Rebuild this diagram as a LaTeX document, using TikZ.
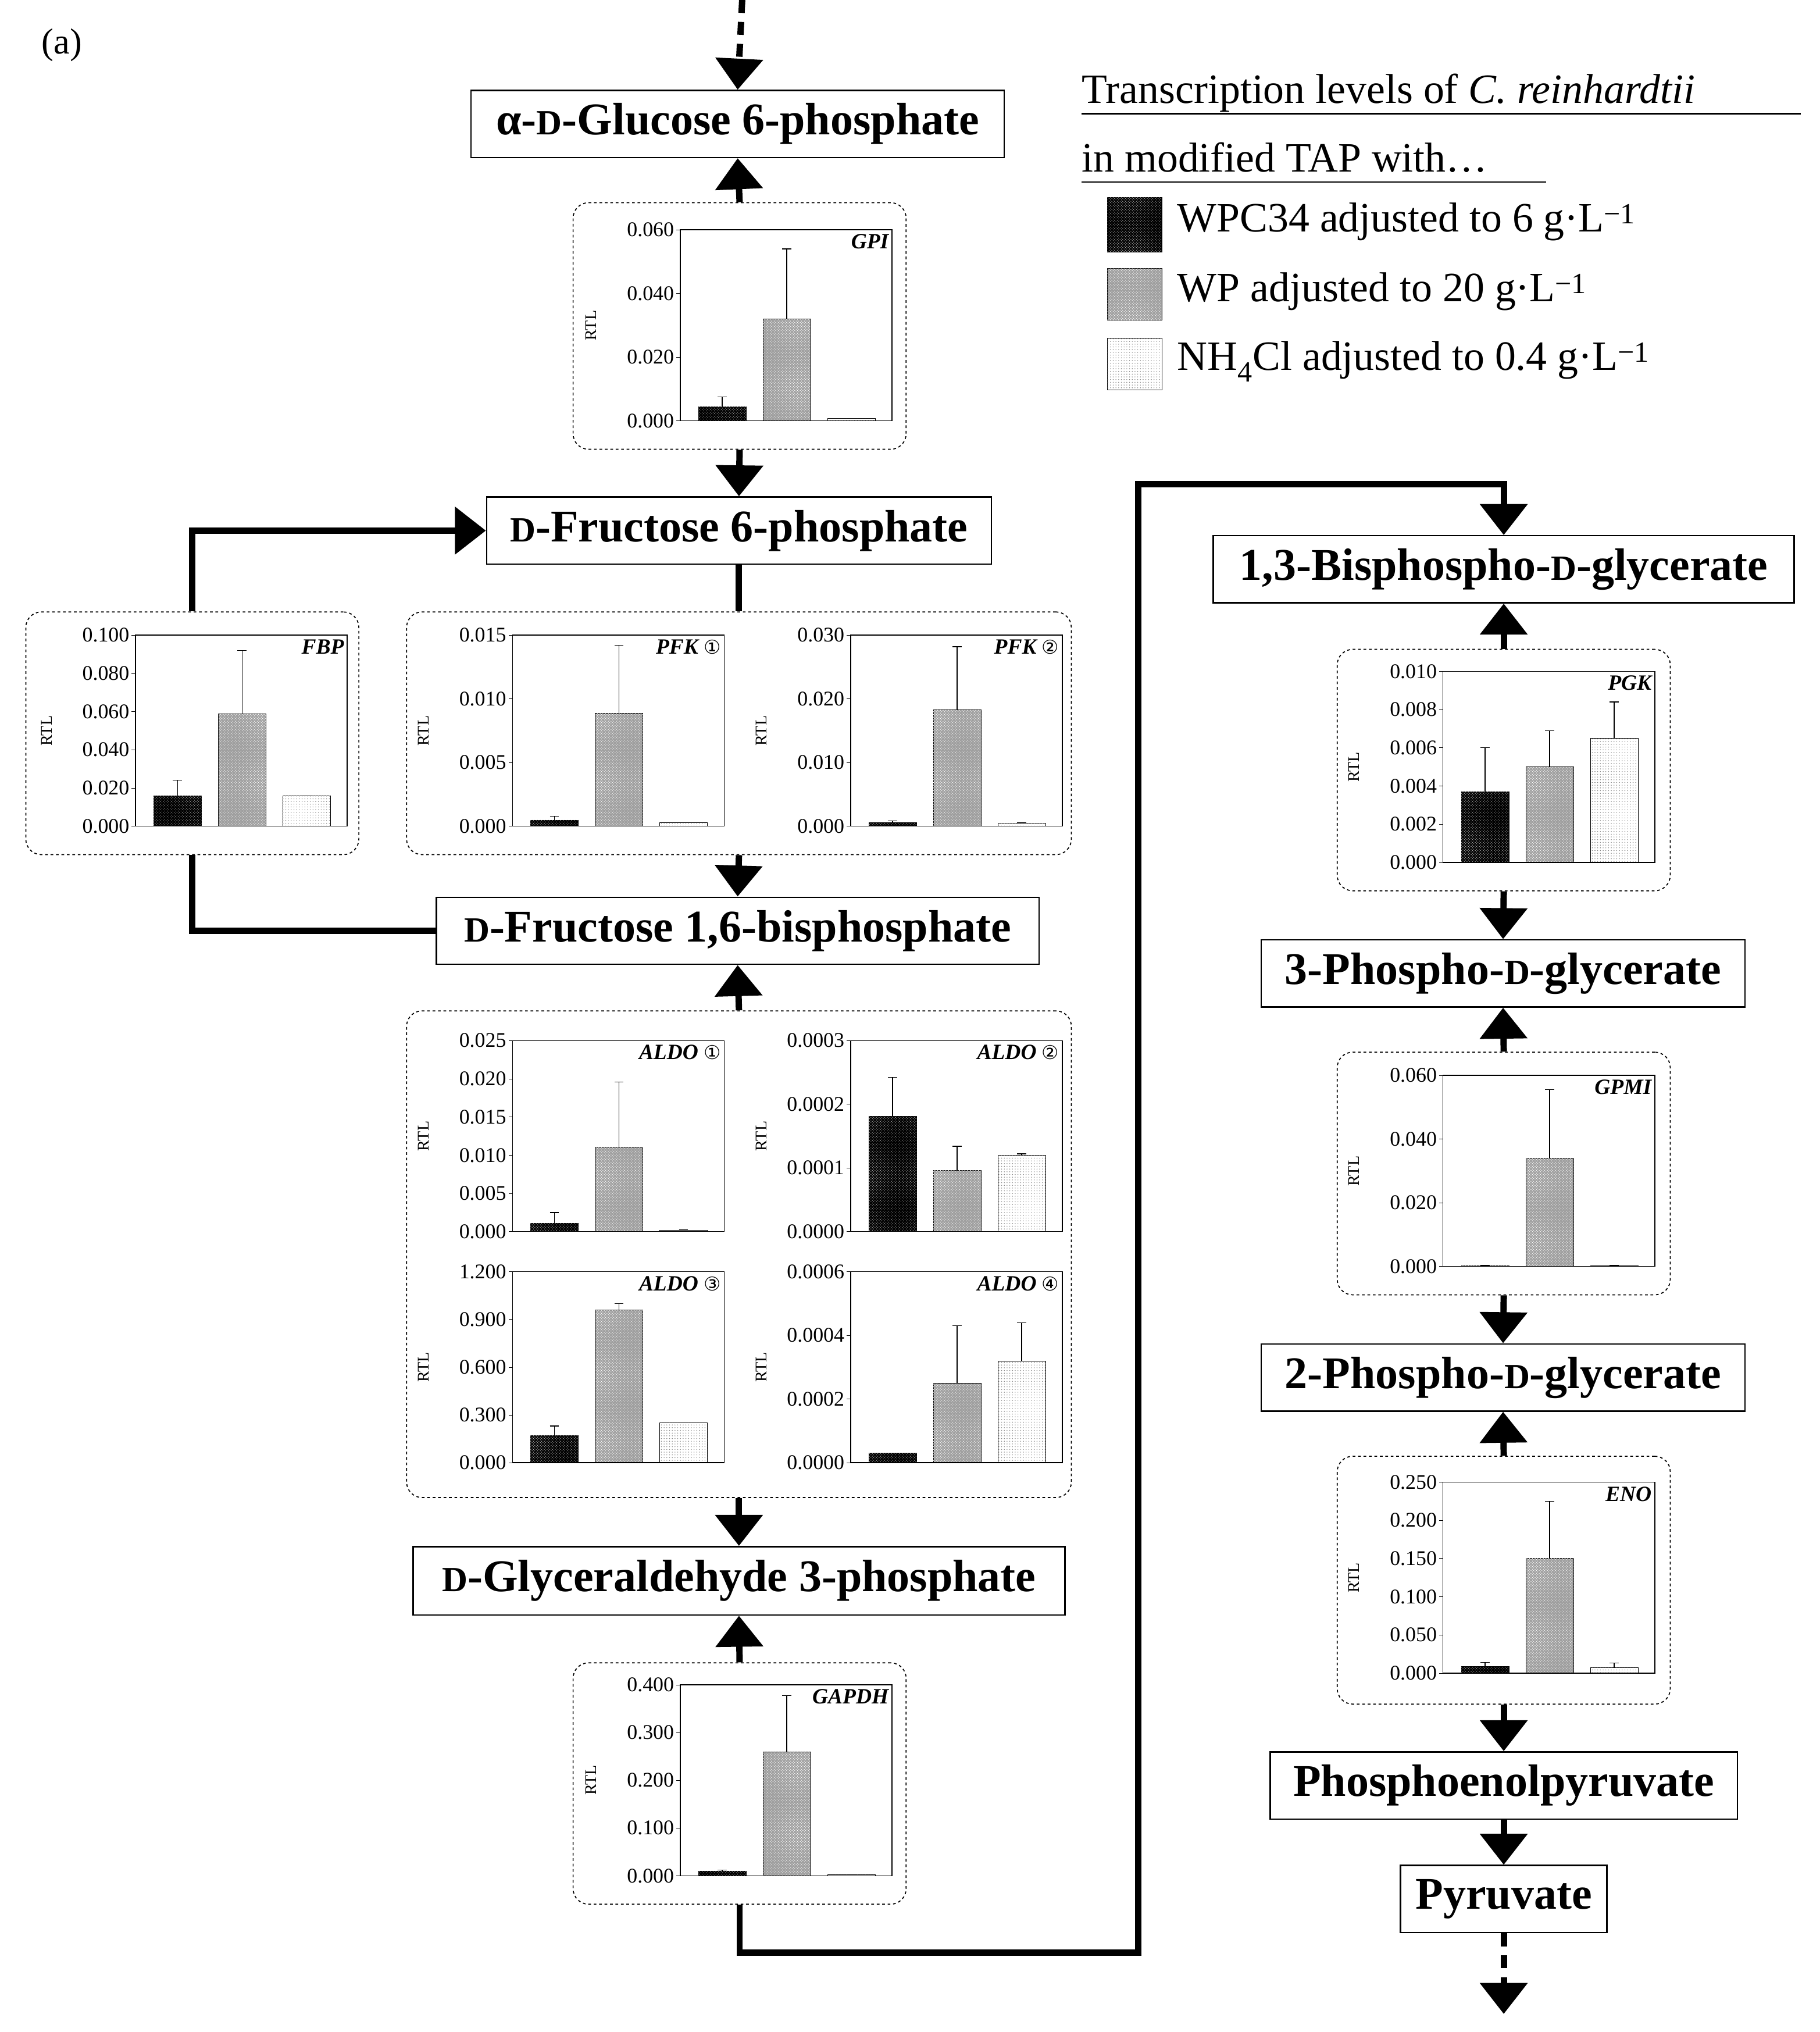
\documentclass[tikz,border=0pt]{standalone}
\usepackage{fontspec}
\setmainfont{Liberation Serif}
\newfontfamily\circfont{DejaVu Sans}
\usetikzlibrary{arrows.meta,patterns}
\newcommand\Dsc{\scalebox{0.78}{D}}
\newcommand\cn[1]{{\circfont\fontsize{21}{21}\selectfont\mdseries\upshape #1}}
\newcommand\invL{g·L\textsuperscript{−1}}
\tikzset{
 mbox/.style={draw,line width=1.6pt,font=\fontsize{50}{54}\selectfont\bfseries,inner sep=0},
 cbox/.style={draw,dashed,line width=1.1pt,rounded corners=0.6cm,inner sep=0},
 conn/.style={line width=7pt},
 arr/.style={conn,-{Triangle[width=1.8cm,length=1.2cm]}},
 dotarr/.style={conn,dash pattern=on 0.5cm off 0.35cm,-{Triangle[width=1.8cm,length=1.2cm]}},
 tick/.style={font=\fontsize{23}{23}\selectfont,inner sep=1pt},
 rtl/.style={font=\fontsize{18}{18}\selectfont},
 gene/.style={font=\fontsize{24}{24}\selectfont\bfseries\itshape,inner sep=2pt},
 b1/.style={draw,fill=black,postaction={pattern=crosshatch dots,pattern color=gray!60}},
 b2/.style={draw,fill=gray!75,postaction={pattern=crosshatch dots,pattern color=white}},
 b3/.style={draw,fill=white,postaction={pattern=dots,pattern color=gray}},
 leg/.style={font=\fontsize{46}{50}\selectfont,anchor=west,inner sep=0}
}
\newcommand\mybar[4]{%
 \draw[#4] (#1,148) rectangle ({#1+37},{148-148*#2});
 \draw[line width=0.8pt] ({#1+18.5},{148-148*#2}) -- ({#1+18.5},{148-148*#3});
 \draw[line width=0.8pt] ({#1+15},{148-148*#3}) -- ({#1+22},{148-148*#3});}
\def\myparse#1/#2/#3/#4/#5/#6\relax{\mybar{14}{#1}{#2}{b1}\mybar{64}{#3}{#4}{b2}\mybar{114}{#5}{#6}{b3}}
\newcommand\mychart[6]{%
 \begin{scope}[shift={(#1,#2)}]
 \myparse#6\relax
 \draw[line width=0.9pt] (0,0) rectangle (164,148);
 \foreach \l [count=\i from 0] in {#4} {\pgfmathsetmacro\yy{148-148*\i/#3}
   \draw (0,\yy)--(-3,\yy); \node[tick,anchor=east] at (-4,\yy) {\l};}
 \node[rotate=90,rtl] at (-69,74) {RTL};
 \node[gene,anchor=north east] at (163,2) {#5};
 \end{scope}}
\begin{document}
\begin{tikzpicture}[x=0.05cm,y=-0.05cm]
\useasboundingbox (0,0) rectangle (1410,1574);
\node[font=\fontsize{40}{40}\selectfont] (lbl) at (48,35) {(a)};
% metabolite boxes
\node[mbox,minimum width={413*0.05cm},minimum height={52*0.05cm}] (glc) at (571.5,96) {α-\Dsc-Glucose 6-phosphate};
\node[mbox,minimum width={391*0.05cm},minimum height={52*0.05cm}] (f6p) at (572.5,411) {\Dsc-Fructose 6-phosphate};
\node[mbox,minimum width={467*0.05cm},minimum height={52*0.05cm}] (f16) at (571.5,721) {\Dsc-Fructose 1,6-bisphosphate};
\node[mbox,minimum width={505*0.05cm},minimum height={53*0.05cm}] (gap) at (572.5,1224.5) {\Dsc-Glyceraldehyde 3-phosphate};
\node[mbox,minimum width={450*0.05cm},minimum height={52*0.05cm}] (bpg) at (1165,441) {1,3-Bisphospho-\Dsc-glycerate};
\node[mbox,minimum width={375*0.05cm},minimum height={52*0.05cm}] (pg3) at (1164.5,754) {3-Phospho-\Dsc-glycerate};
\node[mbox,minimum width={375*0.05cm},minimum height={52*0.05cm}] (pg2) at (1164.5,1067) {2-Phospho-\Dsc-glycerate};
\node[mbox,minimum width={362*0.05cm},minimum height={52*0.05cm}] (pep) at (1165,1383) {Phosphoenolpyruvate};
\node[mbox,minimum width={160*0.05cm},minimum height={52*0.05cm}] (pyr) at (1165,1471) {Pyruvate};
% chart containers
\node[cbox,minimum width={258*0.05cm},minimum height={191*0.05cm}] (gpi) at (573,252.5) {};
\node[cbox,minimum width={258*0.05cm},minimum height={188*0.05cm}] (fbp) at (149,568) {};
\node[cbox,minimum width={515*0.05cm},minimum height={188*0.05cm}] (pfk) at (572.5,568) {};
\node[cbox,minimum width={515*0.05cm},minimum height={377*0.05cm}] (aldo) at (572.5,971.5) {};
\node[cbox,minimum width={258*0.05cm},minimum height={187*0.05cm}] (gapdh) at (573,1381.5) {};
\node[cbox,minimum width={258*0.05cm},minimum height={187*0.05cm}] (pgk) at (1165,596.5) {};
\node[cbox,minimum width={258*0.05cm},minimum height={188*0.05cm}] (gpmi) at (1165,909) {};
\node[cbox,minimum width={258*0.05cm},minimum height={192*0.05cm}] (eno) at (1165,1224) {};
% charts
\mychart{527}{178}{3}{0.000,0.020,0.040,0.060}{GPI}{.075/.125/.533/.9/.012/.012}
\mychart{105}{492}{5}{0.000,0.020,0.040,0.060,0.080,0.100}{FBP}{.16/.24/.59/.92/.16/.16}
\mychart{397}{492}{3}{0.000,0.005,0.010,0.015}{PFK \cn{①}}{.033/.053/.593/.947/.02/.02}
\mychart{659}{492}{3}{0.000,0.010,0.020,0.030}{PFK \cn{②}}{.02/.027/.61/.94/.017/.017}
\mychart{397}{806}{5}{0.000,0.005,0.010,0.015,0.020,0.025}{ALDO \cn{①}}{.044/.1/.444/.784/.008/.008}
\mychart{659}{806}{3}{0.0000,0.0001,0.0002,0.0003}{ALDO \cn{②}}{.603/.807/.32/.447/.4/.407}
\mychart{397}{985}{4}{0.000,0.300,0.600,0.900,1.200}{ALDO \cn{③}}{.142/.192/.8/.833/.208/.208}
\mychart{659}{985}{3}{0.0000,0.0002,0.0004,0.0006}{ALDO \cn{④}}{.05/.05/.417/.717/.533/.733}
\mychart{527}{1305}{4}{0.000,0.100,0.200,0.300,0.400}{GAPDH}{.025/.03/.65/.943/.005/.005}
\mychart{1118}{520}{5}{0.000,0.002,0.004,0.006,0.008,0.010}{PGK}{.37/.6/.5/.69/.65/.84}
\mychart{1118}{833}{3}{0.000,0.020,0.040,0.060}{GPMI}{.005/.005/.567/.925/.005/.005}
\mychart{1118}{1148}{5}{0.000,0.050,0.100,0.150,0.200,0.250}{ENO}{.036/.056/.6/.9/.028/.052}
% connectors
\coordinate (top) at (575,0);
\coordinate (bot) at (1165,1560);
\draw[dotarr] (top) -- (glc.north);
\draw[arr] (gpi.north) -- (glc.south);
\draw[arr] (gpi.south) -- (f6p.north);
\draw[conn] (f6p.south) -- (pfk.north);
\draw[arr] (fbp.north) |- (f6p.west);
\draw[arr] (pfk.south) -- (f16.north);
\draw[conn] (f16.west) -| (fbp.south);
\draw[arr] (aldo.north) -- (f16.south);
\draw[arr] (aldo.south) -- (gap.north);
\draw[arr] (gapdh.north) -- (gap.south);
\draw[arr] (gapdh.south) -- ++(0,37) -| (882,375) -| (bpg.north);
\draw[arr] (pgk.north) -- (bpg.south);
\draw[arr] (pgk.south) -- (pg3.north);
\draw[arr] (gpmi.north) -- (pg3.south);
\draw[arr] (gpmi.south) -- (pg2.north);
\draw[arr] (eno.north) -- (pg2.south);
\draw[arr] (eno.south) -- (pep.north);
\draw[arr] (pep.south) -- (pyr.north);
\draw[dotarr] (pyr.south) -- (bot);
% legend
\node[leg,anchor=base west] (lh1) at (838,80) {Transcription levels of \textit{C. reinhardtii}};
\draw[line width=1.5pt] (838,88) -- (1395,88);
\node[leg,anchor=base west] (lh2) at (838,133) {in modified TAP with…};
\draw[line width=1.5pt] (838,141) -- (1198,141);
\node[b1,minimum width=2.1cm,minimum height=2.1cm,inner sep=0] (s1) at (879,174) {};
\node[b2,minimum width=2.1cm,minimum height=2.0cm,inner sep=0] (s2) at (879,228) {};
\node[b3,minimum width=2.1cm,minimum height=2.0cm,inner sep=0] (s3) at (879,282) {};
\node[leg] (t1) at (912,172) {WPC34 adjusted to 6 \invL};
\node[leg] (t2) at (912,226) {WP adjusted to 20 \invL};
\node[leg] (t3) at (912,280) {NH\textsubscript{4}Cl adjusted to 0.4 \invL};
\end{tikzpicture}
\end{document}
